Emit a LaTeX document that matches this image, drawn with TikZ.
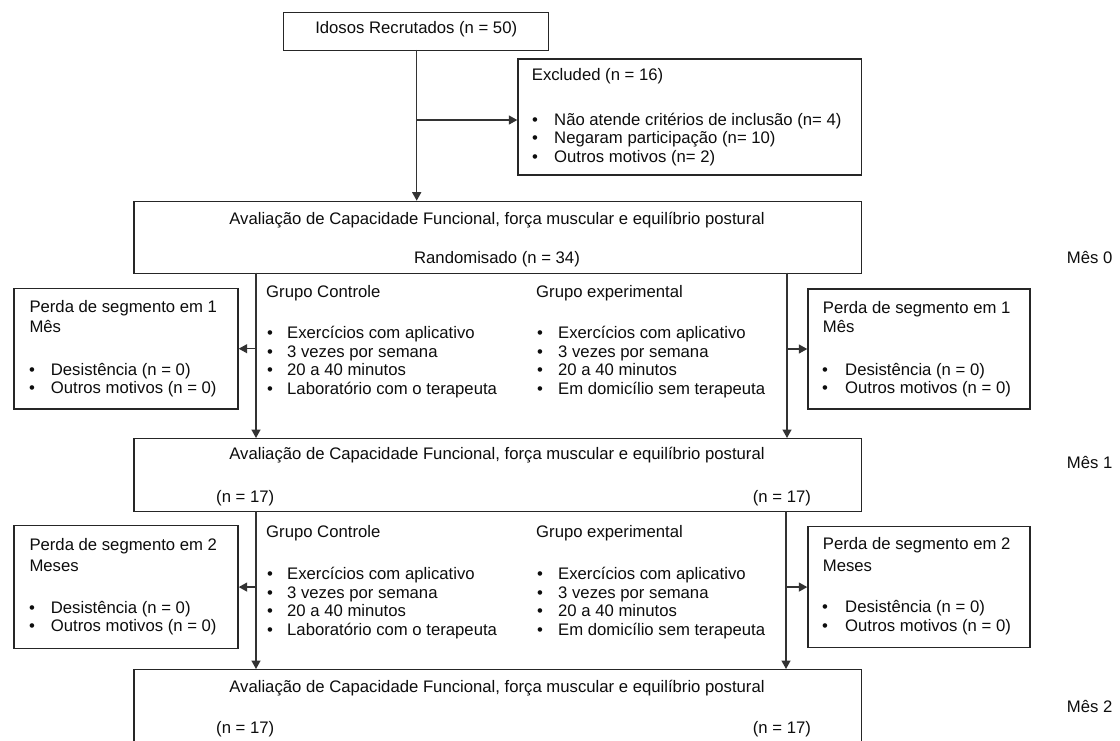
\documentclass[tikz,border=0pt]{standalone}
\usepackage{fontspec}
\setmainfont{Liberation Sans}
\usetikzlibrary{arrows.meta}
\newcommand{\fs}{\fontsize{16.7pt}{20pt}\selectfont}
\tikzset{
  box/.style={draw=black!85, line width=1.4pt, anchor=north west, inner sep=0pt},
  txt/.style={anchor=west, inner sep=0pt, text height=11pt, text depth=0pt, font=\fs, text=black!95},
  ctxt/.style={anchor=center, inner sep=0pt, text height=11pt, text depth=0pt, font=\fs, text=black!95},
  conn/.style={draw=black!80, line width=1.4pt},
  arr/.style={conn, -{Triangle[length=8.5pt,width=9pt]}},
}
\newcommand{\bul}[5]{% name, bullet-left x, text x, y, text
  \node[txt] (#1b) at (#2,#4) {•};
  \node[txt] (#1) at (#3,#4) {#5};}
\begin{document}
\begin{tikzpicture}[x=1pt,y=-1pt]
\useasboundingbox (0,0) rectangle (1120,740);
\clip (0,0) rectangle (1120,740);
\fill[white] (0,0) rectangle (1120,740);

% ---------- boxes ----------
\node[box, minimum width=265pt, minimum height=38.3pt] (idosos) at (283,11.7) {};
\node[box, minimum width=343.4pt, minimum height=116pt] (excl) at (517.3,58.3) {};
\node[box, minimum width=727.4pt, minimum height=72pt] (box1) at (133.3,200.7) {};
\node[box, minimum width=224pt, minimum height=120.6pt] (lossL1) at (13.3,287.7) {};
\node[box, minimum width=222pt, minimum height=120pt] (lossR1) at (807.3,288.3) {};
\node[box, minimum width=727.4pt, minimum height=73pt] (box2) at (133.3,438) {};
\node[box, minimum width=224pt, minimum height=122.7pt] (lossL2) at (13.3,525) {};
\node[box, minimum width=222pt, minimum height=120.7pt] (lossR2) at (807.3,526) {};
\node[box, minimum width=727.4pt, minimum height=90pt] (box3) at (133.3,669) {};

% ---------- texts ----------
\node[ctxt] (tIdosos) at (416.2,28.3) {Idosos Recrutados (n = 50)};

\node[txt] (tExcl) at (531.7,75) {Excluded (n = 16)};
\bul{ex1}{532}{554}{120}{Não atende critérios de inclusão (n= 4)}
\bul{ex2}{532}{554}{138.3}{Negaram participação (n= 10)}
\bul{ex3}{532}{554}{156.7}{Outros motivos (n= 2)}

\node[ctxt] (tAv1) at (497,219) {Avaliação de Capacidade Funcional, força muscular e equilíbrio postural};
\node[ctxt] (tRand) at (497,258) {Randomisado (n = 34)};
\node[txt] (mes0) at (1066.7,258.3) {Mês 0};

% loss boxes month 1
\node[txt] (pL1a) at (29.3,306.7) {Perda de segmento em 1};
\node[txt] (pL1b) at (29.3,326.7) {Mês};
\bul{l1a}{29}{50.7}{370}{Desistência (n = 0)}
\bul{l1b}{29}{50.7}{388.3}{Outros motivos (n = 0)}

\node[txt] (pR1a) at (822.7,307.5) {Perda de segmento em 1};
\node[txt] (pR1b) at (822.7,326.7) {Mês};
\bul{r1a}{822}{845}{370}{Desistência (n = 0)}
\bul{r1b}{822}{845}{388.3}{Outros motivos (n = 0)}

% groups month 1
\node[txt] (gc1) at (266,291.7) {Grupo Controle};
\bul{gc1a}{267}{287}{333}{Exercícios com aplicativo}
\bul{gc1b}{267}{287}{351.6}{3 vezes por semana}
\bul{gc1c}{267}{287}{370.2}{20 a 40 minutos}
\bul{gc1d}{267}{287}{388.8}{Laboratório com o terapeuta}

\node[txt] (ge1) at (536,291.7) {Grupo experimental};
\bul{ge1a}{537}{558}{333}{Exercícios com aplicativo}
\bul{ge1b}{537}{558}{351.6}{3 vezes por semana}
\bul{ge1c}{537}{558}{370.2}{20 a 40 minutos}
\bul{ge1d}{537}{558}{388.8}{Em domicílio sem terapeuta}

% box 2
\node[ctxt] (tAv2) at (497,454) {Avaliação de Capacidade Funcional, força muscular e equilíbrio postural};
\node[txt] (n2L) at (216,496.5) {(n = 17)};
\node[txt] (n2R) at (752.7,496.5) {(n = 17)};
\node[txt] (mes1) at (1066.7,462.7) {Mês 1};

% loss boxes month 2
\node[txt] (pL2a) at (29.3,544.7) {Perda de segmento em 2};
\node[txt] (pL2b) at (29.3,566) {Meses};
\bul{l2a}{29}{50.7}{607.8}{Desistência (n = 0)}
\bul{l2b}{29}{50.7}{626.3}{Outros motivos (n = 0)}

\node[txt] (pR2a) at (822.7,544.3) {Perda de segmento em 2};
\node[txt] (pR2b) at (822.7,565.7) {Meses};
\bul{r2a}{822}{845}{607.3}{Desistência (n = 0)}
\bul{r2b}{822}{845}{626}{Outros motivos (n = 0)}

% groups month 2
\node[txt] (gc2) at (266,531.7) {Grupo Controle};
\bul{gc2a}{267}{287}{574}{Exercícios com aplicativo}
\bul{gc2b}{267}{287}{592.6}{3 vezes por semana}
\bul{gc2c}{267}{287}{611.2}{20 a 40 minutos}
\bul{gc2d}{267}{287}{629.8}{Laboratório com o terapeuta}

\node[txt] (ge2) at (536,531.7) {Grupo experimental};
\bul{ge2a}{537}{558}{574}{Exercícios com aplicativo}
\bul{ge2b}{537}{558}{592.6}{3 vezes por semana}
\bul{ge2c}{537}{558}{611.2}{20 a 40 minutos}
\bul{ge2d}{537}{558}{629.8}{Em domicílio sem terapeuta}

% box 3
\node[ctxt] (tAv3) at (497,687.3) {Avaliação de Capacidade Funcional, força muscular e equilíbrio postural};
\node[txt] (n3L) at (216,728.3) {(n = 17)};
\node[txt] (n3R) at (752.7,728.3) {(n = 17)};
\node[txt] (mes2) at (1066.7,706.7) {Mês 2};

% ---------- connectors ----------
\coordinate (top) at (416.7,49.9);
\coordinate (br) at (416.7,120);
\draw[arr] (top) -- (top |- box1.north);
\draw[arr] (br) -- (br -| excl.west);

\coordinate (l1) at (256,272.7);
\coordinate (r1) at (787,272.7);
\draw[arr] (l1) -- (l1 |- box2.north);
\draw[arr] (r1) -- (r1 |- box2.north);
\draw[arr] (l1 |- lossL1.east) -- (lossL1.east);
\draw[arr] (r1 |- lossR1.west) -- (lossR1.west);

\coordinate (l2) at (256,511);
\coordinate (r2) at (786,511);
\draw[arr] (l2) -- (l2 |- box3.north);
\draw[arr] (r2) -- (r2 |- box3.north);
\draw[arr] (l2 |- lossL2.east) -- (lossL2.east);
\draw[arr] (r2 |- lossR2.west) -- (lossR2.west);
\end{tikzpicture}
\end{document}
